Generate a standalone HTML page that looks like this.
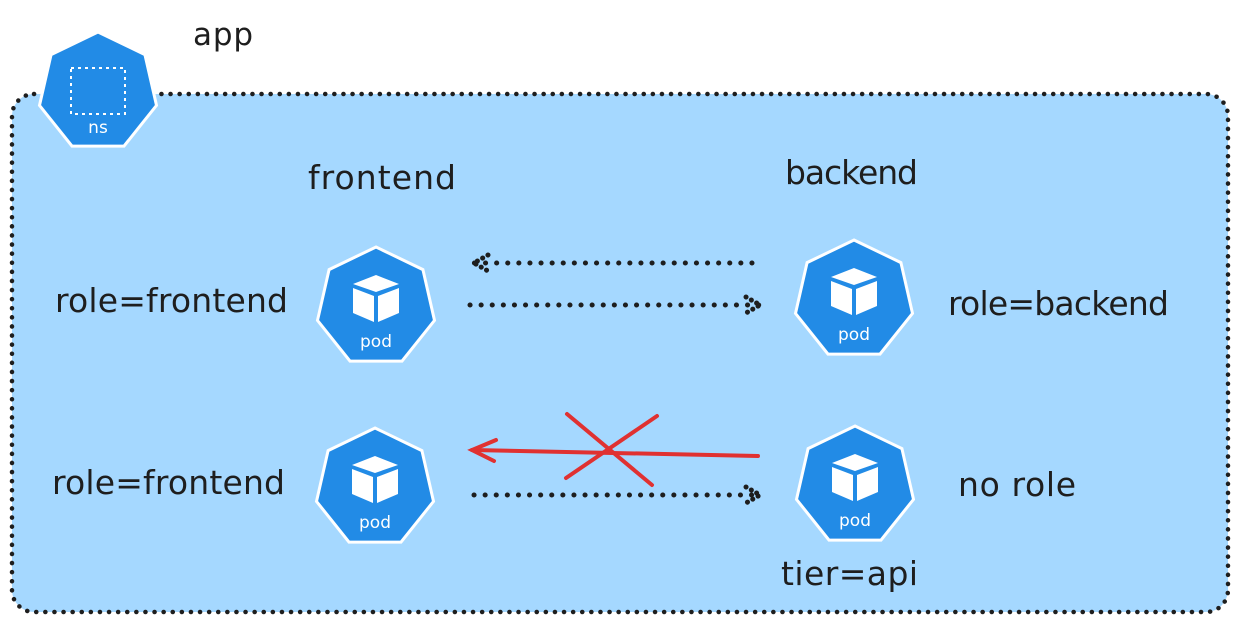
<!DOCTYPE html>
<html><head><meta charset="utf-8"><style>
html,body{margin:0;padding:0;background:#fff;width:1236px;height:623px;overflow:hidden}
text{font-family:"DejaVu Sans","Liberation Sans",sans-serif;fill:#1e1e1e}
</style></head><body>
<svg width="1236" height="623" viewBox="0 0 1236 623">
<rect x="12" y="94" width="1216" height="518" rx="22" fill="#a5d8ff" stroke="#1e1e1e" stroke-width="4.5" stroke-dasharray="0.1 9" stroke-linecap="round"/>
<g id="icons"></g>
<text x="193" y="45" font-size="31" textLength="60">app</text>
<text x="308" y="189" font-size="33" textLength="148">frontend</text>
<text x="785" y="184" font-size="33" textLength="133">backend</text>
<text x="55" y="312" font-size="33" textLength="233">role=frontend</text>
<text x="948" y="315" font-size="33" textLength="221">role=backend</text>
<text x="52" y="494" font-size="33" textLength="233">role=frontend</text>
<text x="958" y="496" font-size="33" textLength="118">no role</text>
<text x="781" y="585" font-size="33" textLength="137">tier=api</text>
<g stroke="#1e1e1e" stroke-width="5" stroke-linecap="round" stroke-dasharray="0.1 11" fill="none">
<path d="M752 263 L474 263"/>
<path d="M488 255 L474 263 L488 271" stroke-dasharray="0.1 6"/>
<path d="M470 305 L760 305"/>
<path d="M746 297 L760 305 L746 313" stroke-dasharray="0.1 6"/>
<path d="M474 495 L760 495"/>
<path d="M746 487 L760 495 L746 503" stroke-dasharray="0.1 6"/>
</g>
<g stroke="#e03131" stroke-width="4" stroke-linecap="round" fill="none">
<path d="M758 456 L472 450"/>
<path d="M496 440 L472 450 L494 461"/>
<path d="M567 414 L652 485"/>
<path d="M657 416 L566 478"/>
</g>
</svg>
<script>
const NS='http://www.w3.org/2000/svg';
const g=document.getElementById('icons');
function hept(cx,cy,r){let p=[];for(let k=0;k<7;k++){const a=(-90+k*360/7)*Math.PI/180;p.push((cx+r*Math.cos(a)).toFixed(1)+','+(cy+r*Math.sin(a)).toFixed(1));}return p.join(' ');}
function icon(cx,cy,r,label,name,isNs){
 const grp=document.createElementNS(NS,'g');
 
 
 const p=document.createElementNS(NS,'polygon');
 p.setAttribute('points',hept(cx,cy,r));p.setAttribute('fill','#228be6');p.setAttribute('stroke','#fff');p.setAttribute('stroke-width','3');
 grp.appendChild(p);
 if(isNs){
  const rc=document.createElementNS(NS,'rect');
  rc.setAttribute('x',cx-27);rc.setAttribute('y',cy-24);rc.setAttribute('width',54);rc.setAttribute('height',46);
  rc.setAttribute('fill','none');rc.setAttribute('stroke','#fff');rc.setAttribute('stroke-width','2');rc.setAttribute('stroke-dasharray','3 4');
  grp.appendChild(rc);
 } else {
  const c=document.createElementNS(NS,'path');
  const x=cx,y=cy-20;
  c.setAttribute('d',`M${x-23} ${y-3} L${x} ${y-12} L${x+23} ${y-3} L${x} ${y+5} Z M${x-23} ${y+1} L${x-2} ${y+9} L${x-2} ${y+35} L${x-23} ${y+26} Z M${x+2} ${y+9} L${x+23} ${y+1} L${x+23} ${y+26} L${x+2} ${y+35} Z`);
  c.setAttribute('fill','#fff');
  grp.appendChild(c);
 }
 const t=document.createElementNS(NS,'text');
 t.setAttribute('x',cx);t.setAttribute('y',cy+(isNs?41:40));t.setAttribute('text-anchor','middle');t.setAttribute('font-size','17');t.setAttribute('style','fill:#fff');
 t.textContent=label;grp.appendChild(t);
 g.appendChild(grp);
}
icon(98,92,60,'ns','ns-icon',true);
icon(376,307,60,'pod','frontend-pod-1',false);
icon(854,300,60,'pod','backend-pod',false);
icon(375,488,60,'pod','frontend-pod-2',false);
icon(855,486,60,'pod','api-pod',false);
</script>
</body></html>
